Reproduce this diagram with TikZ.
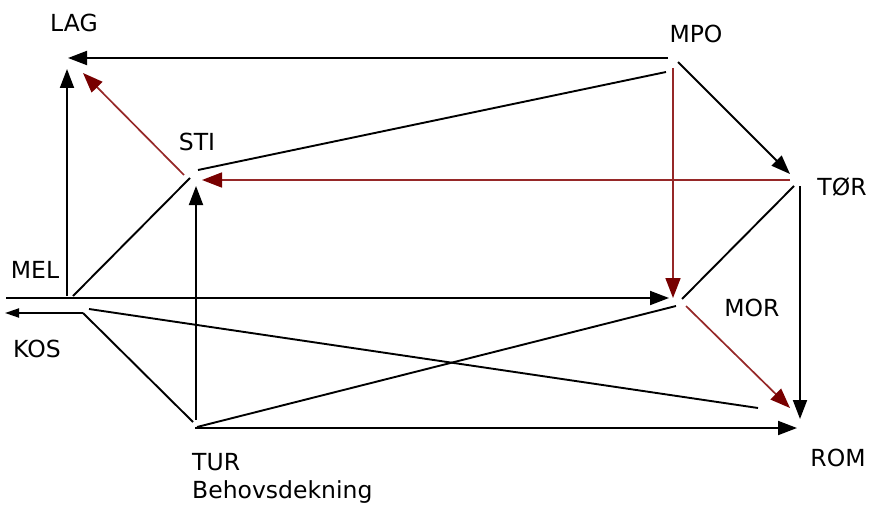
\documentclass[tikz,border=0pt]{standalone}
\usepackage{fontspec}
\setmainfont{DejaVu Sans}
\usetikzlibrary{arrows.meta}
\definecolor{dred}{RGB}{120,0,0}
\definecolor{lred}{RGB}{150,40,40}
\tikzset{
  lbl/.style={inner sep=0pt, font=\fontsize{23.5}{28}\selectfont, text=black},
  ln/.style={draw=black, line width=1.9pt},
  arr/.style={ln, -{Triangle[length=19pt,width=14pt]}},
  sarr/.style={ln, -{Triangle[length=14pt,width=9pt]}},
  rarr/.style={draw=lred, line width=1.7pt, -{Triangle[length=20pt,width=15pt,color=dred]}}
}
\begin{document}
\begin{tikzpicture}[x=1pt,y=-1pt]
\useasboundingbox (0,0) rectangle (872,508);
% labels
\node[lbl] (LAG) at (74,23) {LAG};
\node[lbl] (STI) at (197,142) {STI};
\node[lbl] (MPO) at (696,34) {MPO};
\node[lbl] (TOR) at (842,187) {TØR};
\node[lbl] (MEL) at (35,270) {MEL};
\node[lbl] (KOS) at (37,349) {KOS};
\node[lbl] (MOR) at (752,308) {MOR};
\node[lbl] (ROM) at (838,458) {ROM};
\node[lbl, anchor=north west, align=left] (TUR) at (192,453) {TUR\\Behovsdekning};
% endpoints
\coordinate (mpoL) at (668,58);  \coordinate (lagR) at (68,58);
\coordinate (melT) at (67,296);  \coordinate (lagB) at (67,69);
\coordinate (stiA) at (184,175); \coordinate (lagC) at (83,73);
\coordinate (mpoS) at (666,72);  \coordinate (stiR) at (198,170);
\coordinate (torL) at (790,180); \coordinate (stiE) at (202,180);
\coordinate (mpoB) at (673,68);  \coordinate (morT) at (673,298);
\coordinate (mpoD) at (678,62);  \coordinate (torU) at (790,174);
\coordinate (torD) at (794,186); \coordinate (morE) at (682,299);
\coordinate (torB) at (800,186); \coordinate (romT) at (800,419);
\coordinate (morD) at (686,306); \coordinate (romC) at (790,408);
\coordinate (melL) at (6,298);   \coordinate (morL) at (669,298);
\coordinate (turR) at (197,427); \coordinate (morS) at (676,306);
\coordinate (turB) at (195,428); \coordinate (romL) at (797,428);
\coordinate (turT) at (196,420); \coordinate (stiB) at (196,186);
\coordinate (melD) at (73,296);  \coordinate (stiD) at (190,178);
\coordinate (kosR) at (83,313);  \coordinate (kosL) at (5,313);
\coordinate (turL) at (193,422);
\coordinate (melR) at (89,309);  \coordinate (romW) at (758,408);
% connectors
\draw[arr] (mpoL) -- (lagR);
\draw[arr] (melT) -- (lagB);
\draw[rarr] (stiA) -- (lagC);
\draw[ln] (mpoS) -- (stiR);
\draw[rarr] (torL) -- (stiE);
\draw[rarr] (mpoB) -- (morT);
\draw[arr] (mpoD) -- (torU);
\draw[ln] (torD) -- (morE);
\draw[arr] (torB) -- (romT);
\draw[rarr] (morD) -- (romC);
\draw[arr] (melL) -- (morL);
\draw[ln] (turR) -- (morS);
\draw[arr] (turB) -- (romL);
\draw[arr] (turT) -- (stiB);
\draw[ln] (melD) -- (stiD);
\draw[sarr] (kosR) -- (kosL);
\draw[ln] (kosR) -- (turL);
\draw[ln] (melR) -- (romW);
\end{tikzpicture}
\end{document}
